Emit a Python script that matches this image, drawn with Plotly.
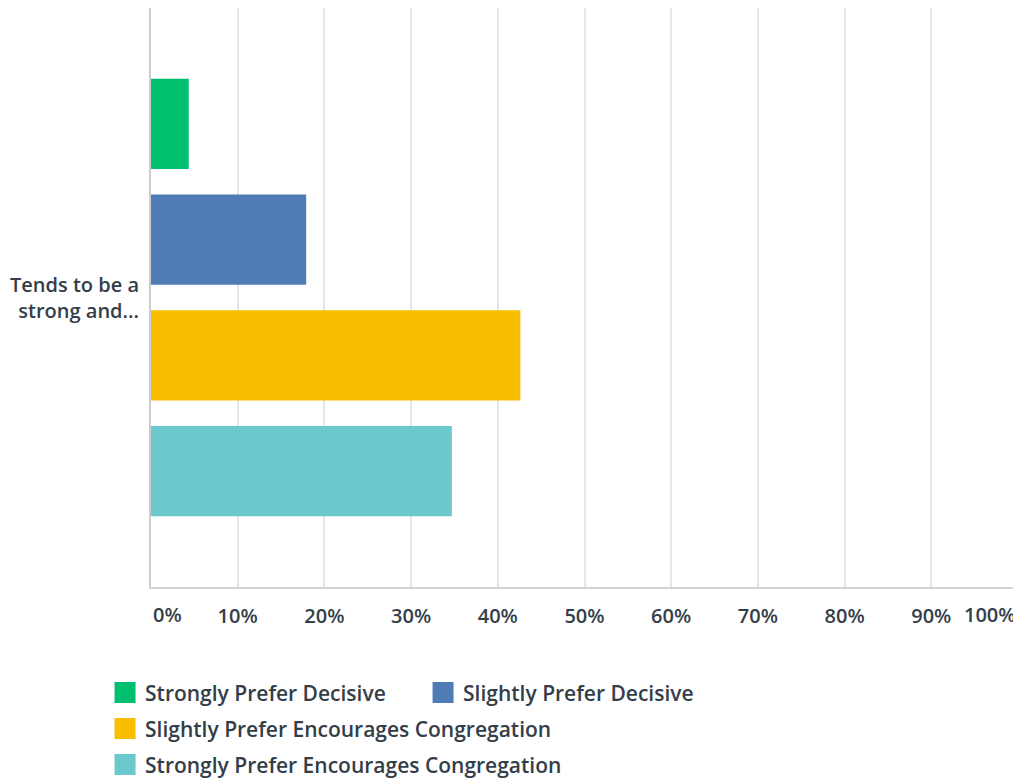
import plotly.graph_objects as go

CATEGORY = ['Tends to be a<br>strong and...']
SERIES = [
    'Strongly Prefer Decisive',
    'Slightly Prefer Decisive',
    'Slightly Prefer Encourages Congregation',
    'Strongly Prefer Encourages Congregation',
]
VALUES = [4.35, 17.9, 42.6, 34.7]
COLORS = ['#00bf6f', '#507cb6', '#f9be00', '#6bc8cd']
LEGEND_IDS = ['legend', 'legend', 'legend2', 'legend3']
TICK_VALS = [0, 10, 20, 30, 40, 50, 60, 70, 80, 90, 100]
TICK_TEXT = ['0%', '10%', '20%', '30%', '40%', '50%', '60%', '70%', '80%', '90%', '100%']

FONT = 'Open Sans'
TEXT_COLOR = '#333e48'

fig = go.Figure()
# plotly stacks grouped h-bars from the bottom up, so add them reversed
for name, val, color in reversed(list(zip(SERIES, VALUES, COLORS))):
    fig.add_trace(go.Bar(
        y=CATEGORY,
        x=[val],
        name=name,
        orientation='h',
        marker=dict(color=color, line=dict(width=0)),
        showlegend=False,
    ))

# legend-only entries, so the swatches can be bigger than the bar default
for name, color, leg in zip(SERIES, COLORS, LEGEND_IDS):
    fig.add_trace(go.Scatter(
        x=[None], y=[None],
        mode='markers',
        name=name,
        marker=dict(symbol='square', size=16, color=color,
                    line=dict(color=color, width=5)),
        legend=leg,
        hoverinfo='skip',
    ))

tick_font = dict(family=FONT, size=20, color=TEXT_COLOR, weight=600)

# end labels are pushed inside the plot, the rest sit centred on the grid
inner_text = [''] + TICK_TEXT[1:-1] + ['']
fig.add_annotation(x=TICK_VALS[0], y=0, xref='x', yref='paper', text=TICK_TEXT[0],
                   showarrow=False, xanchor='left', yanchor='top', yshift=-12,
                   font=tick_font)
fig.add_annotation(x=TICK_VALS[-1], y=0, xref='x', yref='paper', text=TICK_TEXT[-1],
                   showarrow=False, xanchor='right', yanchor='top', yshift=-12,
                   font=tick_font)

leg_font = dict(family=FONT, size=21, color=TEXT_COLOR, weight=600)
# the page body adds 8px around the figure, so the figure is sized to fit inside
fig.update_layout(
    width=1013, height=775,
    margin=dict(l=143, r=3, t=0, b=196, autoexpand=False),
    paper_bgcolor='white',
    plot_bgcolor='white',
    barmode='group',
    bargap=0.2,
    bargroupgap=0.22,
    font=tick_font,
    xaxis=dict(
        range=[0, 100],
        tickvals=TICK_VALS,
        ticktext=inner_text,
        showgrid=True, gridcolor='#e6e6e6', gridwidth=2,
        showline=True, linecolor='#d3d3d3', linewidth=2,
        zeroline=False, ticks='', ticklabelstandoff=10,
        automargin=False, fixedrange=True,
    ),
    yaxis=dict(
        showline=True, linecolor='#cccccc', linewidth=2,
        showgrid=False, ticks='', ticklabelstandoff=6,
        automargin=False, fixedrange=True,
    ),
    showlegend=True,
    legend=dict(orientation='h', x=-0.053, xanchor='left', y=-0.183, yanchor='middle',
                font=leg_font, entrywidth=273),
    legend2=dict(orientation='h', x=-0.053, xanchor='left', y=-0.245, yanchor='middle',
                 font=leg_font),
    legend3=dict(orientation='h', x=-0.053, xanchor='left', y=-0.307, yanchor='middle',
                 font=leg_font),
)

fig.write_html('out.html')
